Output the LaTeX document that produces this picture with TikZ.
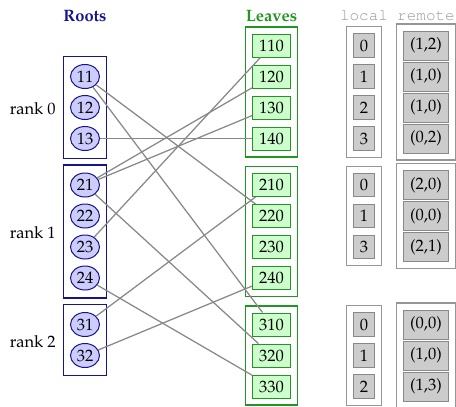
\documentclass[tikz,border=0pt]{standalone}
\usepackage[T1]{fontenc}
\usepackage{mathpazo}
\usepackage{courier}
\usetikzlibrary{fit,shapes.geometric}
\definecolor{navy}{RGB}{20,20,140}
\definecolor{rootfill}{RGB}{204,204,255}
\definecolor{leafgreen}{RGB}{34,150,34}
\definecolor{leaffill}{RGB}{204,255,204}
\definecolor{cellfill}{RGB}{204,204,204}
\definecolor{cellline}{RGB}{136,136,136}
\definecolor{boxline}{RGB}{150,150,150}
\definecolor{linkgray}{RGB}{136,136,136}
\definecolor{monogray}{RGB}{150,150,150}
\begin{document}
\begin{tikzpicture}[x=1pt,y=-1pt,font=\fontsize{16.5}{19}\selectfont,
  rootnode/.style={ellipse,draw=navy,fill=rootfill,line width=1pt,minimum width=29pt,minimum height=24pt,inner sep=0pt},
  leafnode/.style={rectangle,draw=leafgreen,fill=leaffill,line width=1pt,minimum width=38pt,minimum height=23pt,inner sep=0pt},
  localcell/.style={rectangle,draw=cellline,fill=cellfill,line width=1pt,minimum width=20.5pt,minimum height=23.5pt,inner sep=0pt},
  remotecell/.style={rectangle,draw=cellline,fill=cellfill,line width=1pt,minimum width=45.5pt,minimum height=29pt,inner sep=0pt},
  rootbox/.style={draw=navy,line width=1.1pt,inner xsep=6.5pt,inner ysep=7.5pt},
  leafbox/.style={draw=leafgreen,line width=1.1pt,inner sep=6.5pt},
  graybox/.style={draw=boxline,line width=1.1pt,inner sep=6.5pt},
  link/.style={draw=linkgray,line width=1.25pt},
  title/.style={anchor=base,font=\fontsize{16.5}{19}\selectfont\bfseries},
  monotitle/.style={anchor=base,font=\fontsize{16}{19}\selectfont\ttfamily,text=monogray},
  ranklabel/.style={anchor=east,inner sep=0pt}
]
\useasboundingbox (0,0) rectangle (456,407);

% titles
\node[title,text=navy] (troots) at (85,21.5) {Roots};
\node[title,text=leafgreen] (tleaves) at (271.5,21.5) {Leaves};
\node[monotitle] (tlocal) at (364,20) {local};
\node[monotitle] (tremote) at (426,20) {remote};

% roots
\node[rootnode] (r11) at (85,76.5) {11};
\node[rootnode] (r12) at (85,107.5) {12};
\node[rootnode] (r13) at (85,138.5) {13};
\node[rootnode] (r21) at (85,185) {21};
\node[rootnode] (r22) at (85,216) {22};
\node[rootnode] (r23) at (85,247) {23};
\node[rootnode] (r24) at (85,278) {24};
\node[rootnode] (r31) at (85,324.5) {31};
\node[rootnode] (r32) at (85,355.5) {32};
\node[rootbox,fit=(r11)(r13)] (R0) {};
\node[rootbox,fit=(r21)(r24)] (R1) {};
\node[rootbox,fit=(r31)(r32)] (R2) {};
\node[ranklabel] (l0) at ([xshift=-7pt,yshift=-1.5pt]R0.west) {rank 0};
\node[ranklabel] (l1) at ([xshift=-7pt,yshift=-1.5pt]R1.west) {rank 1};
\node[ranklabel] (l2) at ([xshift=-7pt,yshift=-1.5pt]R2.west) {rank 2};

% leaves
\node[leafnode] (v110) at (271.5,45.5) {110};
\node[leafnode] (v120) at (271.5,76.5) {120};
\node[leafnode] (v130) at (271.5,107.5) {130};
\node[leafnode] (v140) at (271.5,138.5) {140};
\node[leafnode] (v210) at (271.5,185) {210};
\node[leafnode] (v220) at (271.5,216) {220};
\node[leafnode] (v230) at (271.5,247) {230};
\node[leafnode] (v240) at (271.5,278) {240};
\node[leafnode] (v310) at (271.5,324.5) {310};
\node[leafnode] (v320) at (271.5,355.5) {320};
\node[leafnode] (v330) at (271.5,386.5) {330};
\node[leafbox,fit=(v110)(v140)] (L0) {};
\node[leafbox,fit=(v210)(v240)] (L1) {};
\node[leafbox,fit=(v310)(v330)] (L2) {};

% local
\node[localcell] (a0) at (364,45.5) {0};
\node[localcell] (a1) at (364,76.5) {1};
\node[localcell] (a2) at (364,107.5) {2};
\node[localcell] (a3) at (364,138.5) {3};
\node[localcell] (b0) at (364,185) {0};
\node[localcell] (b1) at (364,216) {1};
\node[localcell] (b2) at (364,247) {3};
\node[localcell] (c0) at (364,324.5) {0};
\node[localcell] (c1) at (364,355.5) {1};
\node[localcell] (c2) at (364,386.5) {2};
\node[graybox,fit=(a0)(a3)] (A0) {};
\node[graybox,fit=(b0)(b2)] (A1) {};
\node[graybox,fit=(c0)(c2)] (A2) {};

% remote
\node[remotecell] (p0) at (426,45.5) {(1,2)};
\node[remotecell] (p1) at (426,76.5) {(1,0)};
\node[remotecell] (p2) at (426,107.5) {(1,0)};
\node[remotecell] (p3) at (426,138.5) {(0,2)};
\node[remotecell] (q0) at (426,185) {(2,0)};
\node[remotecell] (q1) at (426,216) {(0,0)};
\node[remotecell] (q2) at (426,247) {(2,1)};
\node[remotecell] (s0) at (426,324.5) {(0,0)};
\node[remotecell] (s1) at (426,355.5) {(1,0)};
\node[remotecell] (s2) at (426,386.5) {(1,3)};
\node[graybox,fit=(p0)(p3)] (B0) {};
\node[graybox,fit=(q0)(q2)] (B1) {};
\node[graybox,fit=(s0)(s2)] (B2) {};

% links
\draw[link] (r23) -- (v110);
\draw[link] (r21) -- (v120);
\draw[link] (r21) -- (v130);
\draw[link] (r13) -- (v140);
\draw[link] (r31) -- (v210);
\draw[link] (r11) -- (v220);
\draw[link] (r32) -- (v240);
\draw[link] (r11) -- (v310);
\draw[link] (r21) -- (v320);
\draw[link] (r24) -- (v330);
\end{tikzpicture}
\end{document}
